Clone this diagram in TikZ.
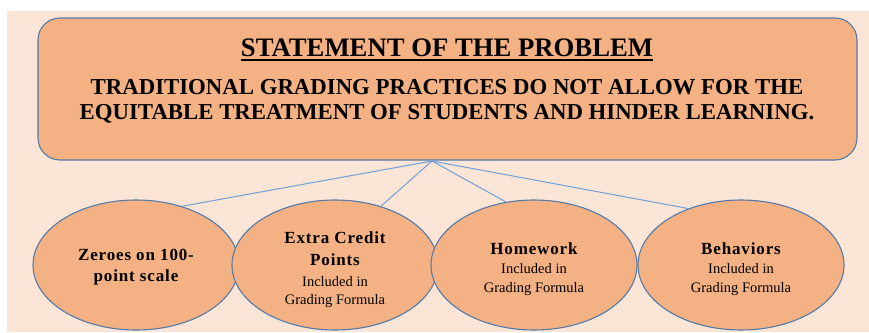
\documentclass[tikz,border=0pt]{standalone}
\usepackage{fontspec}
\setmainfont{Liberation Serif}
\newfontfamily\spc[LetterSpace=5]{Liberation Serif}
\usetikzlibrary{shapes.geometric}
\definecolor{bg}{RGB}{251,229,214}
\definecolor{boxfill}{RGB}{244,177,131}
\definecolor{edge}{RGB}{84,122,168}
\definecolor{link}{RGB}{112,160,214}
\newcommand{\hd}{\spc\bfseries\fontsize{17}{19}\selectfont}
\newcommand{\sbt}{\rmfamily\mdseries\fontsize{14.5}{19}\selectfont}
\begin{document}
\begin{tikzpicture}[x=1pt,y=-1pt,
  probbox/.style={rectangle, rounded corners=22pt, draw=edge, line width=1.1pt, fill=boxfill,
    minimum width=819pt, minimum height=142pt, inner sep=0pt},
  oval/.style={ellipse, draw=edge, line width=1.1pt, fill=boxfill,
    minimum width=206pt, minimum height=130pt, inner sep=0pt, align=center,
    font=\fontsize{14.5}{19}\selectfont},
  conn/.style={draw=link, line width=1pt}]
\useasboundingbox (0,0) rectangle (869,332);
\fill[bg] (7,11) rectangle (869,332);

\node[probbox] (prob) at (447.5,89) {};
\node[inner sep=0pt, anchor=base, font=\bfseries\fontsize{26.7}{30}\selectfont] (title) at (447,56) {STATEMENT OF THE PROBLEM};
\draw[line width=1.8pt] ([yshift=-4pt]title.base west) -- ([yshift=-4pt]title.base east);
\node[inner sep=0pt, align=center, font=\bfseries\fontsize{22.8}{25}\selectfont] (stmt) at (447,101.5)
  {TRADITIONAL GRADING PRACTICES DO NOT ALLOW FOR THE\\EQUITABLE TREATMENT OF STUDENTS AND HINDER LEARNING.};

\coordinate (hub) at (432,161);

\node[oval] (e1) at (136,265) {\hd\rule{0pt}{16pt}Zeroes on 100-\\[2pt]\hd point scale};
\node[oval] (e2) at (335,265) {\hd\rule{0pt}{21pt}Extra Credit\\[3pt]\hd Points\\[2pt]\sbt Included in\\[-1pt]\sbt Grading Formula};
\node[oval] (e3) at (534,265) {\hd\rule{0pt}{20pt}Homework\\\sbt Included in\\\sbt Grading Formula};
\node[oval] (e4) at (741,265) {\hd\rule{0pt}{20pt}Behaviors\\\sbt Included in\\\sbt Grading Formula};

\draw[conn] (hub) -- (e1.52.8);
\draw[conn] (hub) -- (e2.52.8);
\draw[conn] (hub) -- (e3.114.7);
\draw[conn] (hub) -- (e4.133);
\end{tikzpicture}
\end{document}
